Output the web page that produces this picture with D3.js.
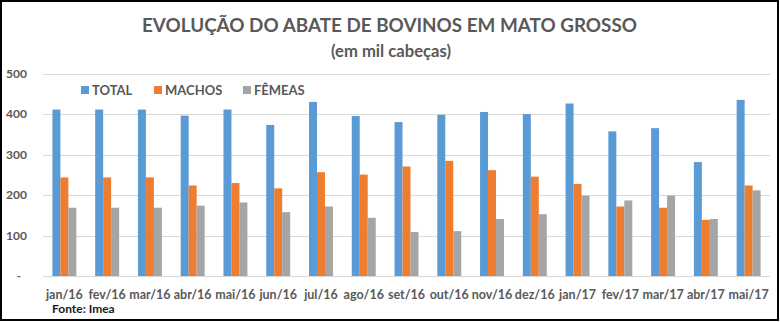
<!DOCTYPE html>
<html><head><meta charset="utf-8">
<script src="https://cdn.jsdelivr.net/npm/d3@7"></script>
<style>body{margin:0;background:#fff}svg{display:block}text{font-family:Lato,"Open Sans",sans-serif}</style>
</head><body>
<svg id="c" width="780" height="322"></svg>
<script>
const categories = ["jan/16","fev/16","mar/16","abr/16","mai/16","jun/16","jul/16","ago/16","set/16","out/16","nov/16","dez/16","jan/17","fev/17","mar/17","abr/17","mai/17"];
const seriesNames = ["TOTAL","MACHOS","FÊMEAS"];
const total  = [412,412,412,397,412,374,431,396,381,399,406,401,427,358,366,282,436];
const machos = [244,244,244,224,230,217,257,251,271,285,262,246,228,172,169,139,224];
const femeas = [169,169,169,174,182,158,172,144,109,111,141,153,199,187,199,141,212];
const yTicks = [0,100,200,300,400,500];
const colors = ["#5B9BD5","#ED7D31","#A5A5A5"];

(function(){
const series = [total, machos, femeas];
const svg = d3.select("#c");
const pL = 43, pR = 770, pT = 74, pB = 276;

const x = d3.scaleBand().domain(categories).range([pL, pR]).paddingInner(0.44).paddingOuter(0.22);
const xs = d3.scaleBand().domain(seriesNames).range([0, x.bandwidth()]);
const y = d3.scaleLinear().domain([0, 500]).range([pB, pT]);

svg.append("g").selectAll("line").data(yTicks).join("line")
  .attr("x1", pL).attr("x2", pR)
  .attr("y1", d => Math.round(y(d)) + 0.5).attr("y2", d => Math.round(y(d)) + 0.5)
  .attr("stroke", "#D9D9D9").attr("stroke-width", 1);

svg.append("g").selectAll("text").data(yTicks).join("text")
  .attr("x", d => d === 0 ? 21 : 27).attr("y", d => y(d) + 4)
  .attr("text-anchor", "end").attr("font-size", 12).attr("font-weight", "bold").attr("fill", "#595959")
  .text(d => d === 0 ? "-" : d);

const g = svg.append("g");
seriesNames.forEach((s, si) => {
  g.append("g").selectAll("rect").data(series[si]).join("rect")
    .attr("x", (d, i) => x(categories[i]) + xs(s))
    .attr("width", xs.bandwidth())
    .attr("y", d => y(d))
    .attr("height", d => pB - y(d))
    .attr("fill", colors[si]);
});

svg.append("g").selectAll("text").data(categories).join("text")
  .attr("x", d => x(d) + x.bandwidth() / 2).attr("y", 299)
  .attr("text-anchor", "middle").attr("font-size", 12.5).attr("font-weight", "bold").attr("fill", "#595959")
  .text(d => d);

svg.append("text").attr("x", 389.5).attr("y", 32).attr("text-anchor", "middle")
  .attr("font-size", 18.5).attr("font-weight", "bold").attr("fill", "#595959")
  .attr("textLength", 495).attr("lengthAdjust", "spacingAndGlyphs")
  .text("EVOLUÇÃO DO ABATE DE BOVINOS EM MATO GROSSO");
svg.append("text").attr("x", 391).attr("y", 57).attr("text-anchor", "middle")
  .attr("font-size", 16.5).attr("font-weight", "bold").attr("fill", "#595959")
  .attr("textLength", 120).attr("lengthAdjust", "spacingAndGlyphs")
  .text("(em mil cabeças)");

const legX = [81, 154, 243];
const leg = svg.append("g");
seriesNames.forEach((s, i) => {
  leg.append("rect").attr("x", legX[i]).attr("y", 86).attr("width", 8).attr("height", 8).attr("fill", colors[i]);
  leg.append("text").attr("x", legX[i] + 11).attr("y", 94.5).attr("font-size", 13).attr("font-weight", "bold")
    .attr("fill", "#595959").text(s);
});

svg.append("text").attr("x", 52).attr("y", 313).attr("font-size", 12).attr("font-weight", "bold")
  .attr("fill", "#1a1a1a").text("Fonte: Imea");

svg.append("rect").attr("x", 1).attr("y", 1).attr("width", 777).attr("height", 319)
  .attr("fill", "none").attr("stroke", "#000").attr("stroke-width", 2);
})();
</script>
</body></html>
